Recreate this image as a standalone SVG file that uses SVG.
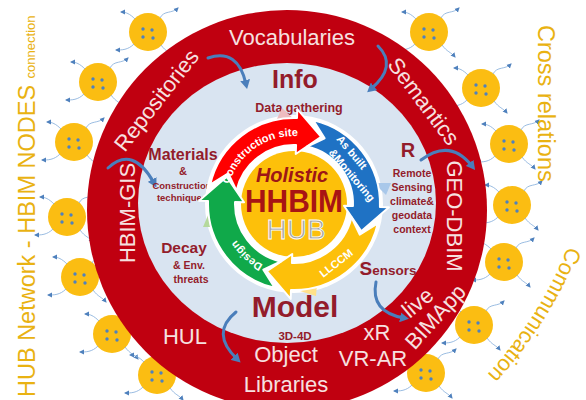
<svg xmlns="http://www.w3.org/2000/svg" width="586" height="400" viewBox="0 0 586 400">
<defs>
<style>
text { font-family: "Liberation Sans", Arial, sans-serif; }
.ring { fill: #f6e1e0; font-size: 22px; text-anchor: middle; }
.dr { fill: #931c2b; font-weight: bold; text-anchor: middle; }
.gold { fill: #e9b212; }
.wt { fill: #ffffff; font-weight: bold; font-size: 11px; }
.nc { fill: none; stroke: #8fb4de; stroke-width: 0.9; marker-end: url(#sa); }
.nd { fill: #4f81bd; }
.ba { fill: none; stroke: #4a7ebb; stroke-width: 3; marker-end: url(#ba); stroke-linecap: round; }
.arr { stroke: #ffffff; stroke-width: 2; stroke-linejoin: round; }
</style>
<marker id="sa" markerWidth="6" markerHeight="6" refX="4" refY="3" orient="auto" markerUnits="userSpaceOnUse"><path d="M0,0.5 L5,3 L0,5.5 Z" fill="#4f81bd"/></marker>
<marker id="ba" markerWidth="10" markerHeight="10" refX="4" refY="5" orient="auto" markerUnits="userSpaceOnUse"><path d="M0,0 L9,5 L0,10 Z" fill="#4a7ebb"/></marker>
<g id="nodeShape">
<circle r="19" fill="#fbbd12"/>
<path class="nc" d="M-13,-13 C-18,-18 -22,-20 -27,-20"/>
<path class="nc" d="M12,-14 C16,-22 24,-18 30,-24"/>
<path class="nc" d="M-14,12 C-20,18 -26,18 -32,18"/>
<path class="nc" d="M13,13 C18,20 22,20 26,25"/>
<circle class="nd" cx="-5" cy="-3" r="1.7"/>
<circle class="nd" cx="4" cy="-2" r="1.7"/>
<circle class="nd" cx="-5" cy="5" r="1.7"/>
<circle class="nd" cx="5" cy="6" r="1.7"/>
</g>
</defs>
<rect width="586" height="400" fill="#ffffff"/>

<g id="nodes">
<g id="node-L1" transform="translate(148,32)"><use href="#nodeShape"/></g>
<g id="node-L2" transform="translate(98,82)"><use href="#nodeShape"/></g>
<g id="node-L3" transform="translate(74,142)"><use href="#nodeShape"/></g>
<g id="node-L4" transform="translate(67,217)"><use href="#nodeShape"/></g>
<g id="node-L5" transform="translate(80,277)"><use href="#nodeShape"/></g>
<g id="node-L6" transform="translate(112,334)"><use href="#nodeShape"/></g>
<g id="node-L7" transform="translate(157,375)"><use href="#nodeShape"/></g>
<g id="node-R1" transform="translate(429,32)"><use href="#nodeShape"/></g>
<g id="node-R2" transform="translate(481,88)"><use href="#nodeShape"/></g>
<g id="node-R3" transform="translate(509,144)"><use href="#nodeShape"/></g>
<g id="node-R4" transform="translate(512,205)"><use href="#nodeShape"/></g>
<g id="node-R5" transform="translate(504,262)"><use href="#nodeShape"/></g>
<g id="node-R6" transform="translate(474,325)"><use href="#nodeShape"/></g>
<g id="node-R7" transform="translate(426,373)"><use href="#nodeShape"/></g>
</g>

<g id="hub-ring">
<circle cx="287" cy="210" r="200" fill="#c00010"/>
<ellipse cx="287" cy="203" rx="149" ry="140" fill="#d9e4f1"/>
<text class="ring" x="292" y="45" font-size="23">Vocabularies</text>
<text class="ring" transform="translate(156,100) rotate(-52)" y="8">Repositories</text>
<text class="ring" transform="translate(424,101) rotate(53)" y="8">Semantics</text>
<text class="ring" transform="translate(127,213) rotate(-90)" y="7.5" font-size="21">HBIM-GIS</text>
<text class="ring" transform="translate(454,216) rotate(90)" y="7.5">GEO-DBIM</text>
<text class="ring" x="185" y="344">HUL</text>
<text class="ring" x="286" y="362" font-size="23">Object</text>
<text class="ring" x="286" y="392" font-size="24">Libraries</text>
<text class="ring" x="377" y="340" font-size="21">xR</text>
<text class="ring" x="373" y="366" font-size="16">VR-AR</text>
<text class="ring" transform="translate(418,303) rotate(-40)" y="7" font-size="23">live</text>
<text class="ring" transform="translate(438,319) rotate(-48)" y="4" font-size="13">BIMApp</text>
</g>

<g id="connectors">
<path class="ba" d="M208,58 Q238,48 246,84"/>
<path class="ba" d="M378,46 Q398,66 371,89"/>
<path class="ba" d="M108,168 Q133,145 154,183"/>
<path class="ba" d="M421,160 Q450,138 472,166"/>
<path class="ba" d="M376,282 Q370,312 404,318"/>
<path class="ba" d="M236,312 Q210,333 237,359"/>
</g>

<g id="info-texts">
<text class="dr" x="295" y="88" font-size="25">Info</text>
<text class="dr" x="299" y="112" font-size="12.5">Data gathering</text>
<text class="dr" x="183" y="160" font-size="16">Materials</text>
<text class="dr" x="183" y="175" font-size="11">&amp;</text>
<text class="dr" x="182" y="189" font-size="9.5">Construction</text>
<text class="dr" x="182" y="201" font-size="9.5">techniques</text>
<text class="dr" x="184" y="253" font-size="15.5">Decay</text>
<text class="dr" x="189" y="269" font-size="10.5">&amp; Env.</text>
<text class="dr" x="191" y="283" font-size="10.5">threats</text>
<text class="dr" x="408" y="157" font-size="20">R</text>
<text class="dr" x="412" y="177" font-size="10.5">Remote</text>
<text class="dr" x="412" y="191" font-size="10.5">Sensing</text>
<text class="dr" x="412" y="205" font-size="10.5">climate&amp;</text>
<text class="dr" x="412" y="219" font-size="10.5">geodata</text>
<text class="dr" x="412" y="233" font-size="10.5">context</text>
<text class="dr" x="388" y="275"><tspan font-size="19">S</tspan><tspan font-size="13.5">ensors</tspan></text>
<text class="dr" x="295" y="317" font-size="30">Model</text>
<text class="dr" x="295" y="340" font-size="11.5">3D-4D</text>
</g>

<g id="hub-cycle">
<circle cx="294" cy="204" r="89" fill="#ffffff"/>
<polygon points="276,121 282,108 296,121" fill="#eebcc0"/>
<polygon points="374,183 391,183 386,195" fill="#a9c8ea"/>
<polygon points="203,227 209,213 216,227" fill="#b5d99c"/>
<polygon points="300,291 317,284 316,296" fill="#ffe18a"/>
<circle cx="294" cy="204" r="53" fill="#fdc00a"/>
<path class="arr" fill="#ff0000" d="M210.2,184.65 A86,86 0 0,1 297,118.05 L297.32,109.06 L321.16,136.78 L295.75,154.03 L296.06,145.04 A59,59 0 0,0 236.51,190.73 L228.29,173.36 Z"/>
<path class="arr" fill="#1f72c4" d="M313.35,120.2 A86,86 0 0,1 379.95,207 L388.94,207.32 L361.22,231.16 L343.97,205.75 L352.96,206.06 A59,59 0 0,0 307.27,146.51 L324.64,138.29 Z"/>
<path class="arr" fill="#fdc00a" d="M377.8,223.35 A86,86 0 0,1 291,289.95 L290.68,298.94 L266.84,271.22 L292.25,253.97 L291.94,262.96 A59,59 0 0,0 351.49,217.27 L359.71,234.64 Z"/>
<path class="arr" fill="#10a94a" d="M274.65,287.8 A86,86 0 0,1 208.05,201 L199.06,200.68 L226.78,176.84 L244.03,202.25 L235.04,201.94 A59,59 0 0,0 280.73,261.49 L263.36,269.71 Z"/>
<path id="arcCS" d="M227.03,192.19 A68,68 0 0,1 305.81,137.03" fill="none"/>
<path id="arcDS" d="M282.19,270.97 A68,68 0 0,1 228.32,221.6" fill="none"/>
<text class="wt"><textPath href="#arcCS" startOffset="50%" text-anchor="middle">Construction site</textPath></text>
<text class="wt"><textPath href="#arcDS" startOffset="50%" text-anchor="middle">Design</textPath></text>
<g transform="translate(352,160) rotate(50)">
<text class="wt" x="-6" y="-1" text-anchor="middle">As built</text>
<text class="wt" x="11.5" y="13.6" text-anchor="middle">&amp;Monitoring</text>
</g>
<text class="wt" transform="translate(336,263) rotate(-38)" y="4" text-anchor="middle" font-weight="normal">LLCCM</text>
<text x="292" y="182" font-size="20" font-weight="bold" font-style="italic" fill="#9e1616" text-anchor="middle">Holistic</text>
<text x="294" y="212" font-size="31" font-weight="bold" fill="#a81414" text-anchor="middle" textLength="98" lengthAdjust="spacingAndGlyphs">HHBIM</text>
<text x="296" y="239" font-size="28" fill="#a5a5a5" stroke="#ffffff" stroke-width="0.8" text-anchor="middle">HUB</text>
</g>

<g id="side-labels">
<text class="gold" transform="translate(35,397) rotate(-90)" font-size="23.5">HUB Network - HBIM NODES <tspan font-size="13">connection</tspan></text>
<text class="gold" transform="translate(538,25) rotate(90)" font-size="23.5">Cross relations</text>
<path id="arcCom" d="M568,246 Q540,318 484,378" fill="none"/>
<text class="gold" font-size="22"><textPath href="#arcCom">Communication</textPath></text>
</g>
</svg>
